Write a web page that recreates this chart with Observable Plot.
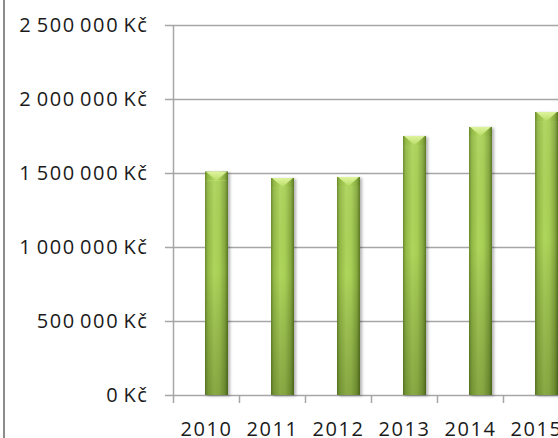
<!DOCTYPE html>
<html>
<head>
<meta charset="utf-8">
<script src="https://cdn.jsdelivr.net/npm/d3@7"></script>
<script src="https://cdn.jsdelivr.net/npm/@observablehq/plot@0.6"></script>
<style>
  html, body { margin: 0; padding: 0; background: #fff; }
  #wrap { position: relative; width: 558px; height: 438px; overflow: hidden; }
  #border { position: absolute; left: 3px; top: 0; width: 2px; height: 438px; background: #8c8c8c; }
</style>
</head>
<body>
<div id="wrap"><div id="chart"></div><div id="border"></div></div>
<script>
const years = ["2010", "2011", "2012", "2013", "2014", "2015"];
const revenue = [1509000, 1466000, 1473000, 1750000, 1811000, 1912000];
const yTicks = [0, 500000, 1000000, 1500000, 2000000, 2500000];

const data = years.map((y, i) => ({year: y, value: revenue[i]}));
const fmt = d => d3.format(",")(d).replace(/,/g, " ") + " Kč";

const defs = () => {
  const d = d3.create("svg:defs");
  const g = d.append("linearGradient").attr("id", "barGrad").attr("x1", 0).attr("x2", 1).attr("y1", 0).attr("y2", 0);
  [["0%", "#6a8a2c"], ["12%", "#92b846"], ["40%", "#afd55c"], ["62%", "#a8cf56"], ["86%", "#87aa40"], ["100%", "#5a7822"]]
    .forEach(([o, c]) => g.append("stop").attr("offset", o).attr("stop-color", c));
  const v = d.append("linearGradient").attr("id", "shadeGrad").attr("x1", 0).attr("x2", 0).attr("y1", 0).attr("y2", 1);
  [["0%", "#ffffff", 0.05], ["45%", "#000000", 0.0], ["100%", "#1a2a00", 0.26]]
    .forEach(([o, c, op]) => v.append("stop").attr("offset", o).attr("stop-color", c).attr("stop-opacity", op));
  const cg = d.append("linearGradient").attr("id", "capGrad").attr("x1", 0).attr("x2", 0).attr("y1", 0).attr("y2", 1);
  [["0%", "#dff49e"], ["100%", "#b8dc68"]].forEach(([o, c]) => cg.append("stop").attr("offset", o).attr("stop-color", c));
  const p = d.append("pattern").attr("id", "capPat").attr("patternUnits", "objectBoundingBox")
    .attr("patternContentUnits", "objectBoundingBox").attr("width", 1).attr("height", 1);
  p.append("rect").attr("width", 1).attr("height", 1).attr("fill", "url(#barGrad)");
  p.append("polygon").attr("points", "0.05,0 0.95,0 0.5,1").attr("fill", "url(#capGrad)");
  const f = d.append("filter").attr("id", "shadow").attr("x", "-30%").attr("y", "-5%").attr("width", "160%").attr("height", "110%");
  f.append("feDropShadow").attr("dx", 2).attr("dy", 1).attr("stdDeviation", 1.5).attr("flood-color", "#000").attr("flood-opacity", 0.3);
  return d.node();
};

const gridColor = "#a6a6a6";
const textColor = "#1a1a1a";

const chart = Plot.plot({
  width: 558,
  height: 438,
  marginLeft: 173,
  marginRight: -11,
  marginTop: 25,
  marginBottom: 43,
  style: {fontFamily: "'Open Sans', sans-serif", fontSize: "20px", color: textColor, background: "transparent", overflow: "hidden", letterSpacing: "1.6px", wordSpacing: "-2.5px"},
  x: {domain: years, padding: 0, align: 0},
  y: {domain: [0, 2500000]},
  marks: [
    defs,
    Plot.gridY(yTicks, {stroke: gridColor, strokeOpacity: 1, strokeWidth: 1.5}),
    Plot.ruleX([years[0]], {x: d => d, dx: -33, y1: 0, y2: 2500000, stroke: gridColor, strokeWidth: 1.5}),
    Plot.ruleX(years, {x: d => d, dx: -33, y1: 0, y2: 0, insetBottom: -8, stroke: gridColor, strokeWidth: 1.5}),
    Plot.axisY(yTicks, {tickSize: 8, tickPadding: 17, tickFormat: fmt, stroke: gridColor, fill: textColor, strokeWidth: 1.5, label: null}),
    Plot.axisX({tickSize: 0, tickPadding: 26, fill: textColor, label: null}),
    Plot.barY(data, {x: "year", y: "value", insetLeft: 32, insetRight: 11, fill: "url(#barGrad)"}),
    Plot.barY(data, {x: "year", y: "value", insetLeft: 32, insetRight: 11, fill: "url(#shadeGrad)"}),
    Plot.barY(data, {x: "year", y1: "value", y2: "value", insetBottom: -9, insetLeft: 32, insetRight: 11, fill: "url(#capPat)"})
  ]
});

d3.select(chart).selectAll("g[aria-label=bar]").filter((d, i) => i === 0).attr("filter", "url(#shadow)");
document.getElementById("chart").appendChild(chart);
</script>
</body>
</html>
